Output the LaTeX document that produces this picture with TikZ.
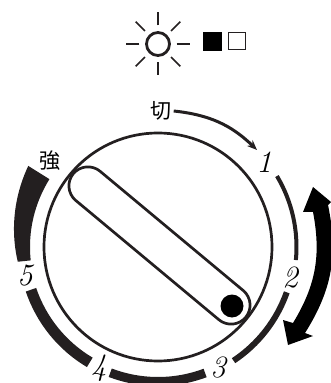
\documentclass[tikz,border=0pt]{standalone}
\usepackage{fontspec}
\newfontfamily\cjk{Noto Sans CJK JP}
\usetikzlibrary{arrows.meta,shapes.misc}
\tikzset{
  ray/.style={line width=1.7pt},
  dialnum/.style={font=\fontsize{31}{33}\selectfont\itshape,inner sep=0pt},
  dialcjk/.style={font=\fontsize{21}{23}\selectfont\cjk,inner sep=0pt},
}
\begin{document}
\begin{tikzpicture}[x=1pt,y=1pt]
    \useasboundingbox (-158,-136) rectangle (173,247);
    \definecolor{ink}{RGB}{35,31,32}

    % Lamp symbol
    \node[circle,draw=ink,line width=2.8pt,minimum size=23pt,inner sep=0pt] (lamp) at (0,203) {};
    \foreach \a in {0,45,...,315}
      \draw[ray,ink] (lamp.center) ++(\a:18.5) -- ++(\a:13);
    \node[rectangle,fill=black,minimum size=19pt,inner sep=0pt] (ledon) at (54.5,205.5) {};
    \node[rectangle,draw=ink,line width=1.5pt,minimum size=17pt,inner sep=0pt] (ledoff) at (79,206) {};

    % Dial and slot
    \draw[ink,line width=2.7pt] (0,0) circle (114);
    \node[rounded rectangle,draw=ink,line width=2.7pt,minimum width=231pt,minimum height=38pt,rotate=-39.8] (slot) at (1.5,1.5) {};
    \fill (74,-59) circle (11.5);

    % Labels
    \node[dialcjk] (off) at (3,136) {切};
    \node[dialcjk] (strong) at (-108,86) {強};
    \node[dialnum] (one) at (106,85) {1};
    \node[dialnum] (two) at (132,-31) {2};
    \node[dialnum] (three) at (60,-121) {3};
    \node[dialnum] (four) at (-59,-121) {4};
    \node[dialnum] (five) at (-133,-29) {5};

    % Scale segments
    \foreach \from/\to/\rad/\thick in {30.8/-5.4/138.5/4,-19.4/-56.4/136.5/6,-69.5/-110.8/134.5/9,-120.6/-161.4/134/11}
      \draw[ink,line width=\thick pt] (\from:\rad) arc[start angle=\from,end angle=\to,radius=\rad];
    % Widening segment up to the strong mark
    \fill[ink,domain=186:148,samples=20] plot (\x:{128}) -- plot[domain=148:186] (\x:{141+12*(186-\x)/38}) -- cycle;

    % Arrows
    \coordinate (offend) at (99,97);
    \draw[ink,line width=3pt,-{Stealth[length=10pt,width=8pt]}] (off.east) ++(2,0) to[bend left=19] (offend);
    % Double arrow beside the scale
    \fill (155,60) -- (173,45) -- (170,42) to[bend left=22] (147,-86) -- (155,-89) -- (130,-98)
      -- (125,-73) -- (135,-76) to[bend right=21] (155,35) -- (145,35) -- cycle;
\end{tikzpicture}
\end{document}
